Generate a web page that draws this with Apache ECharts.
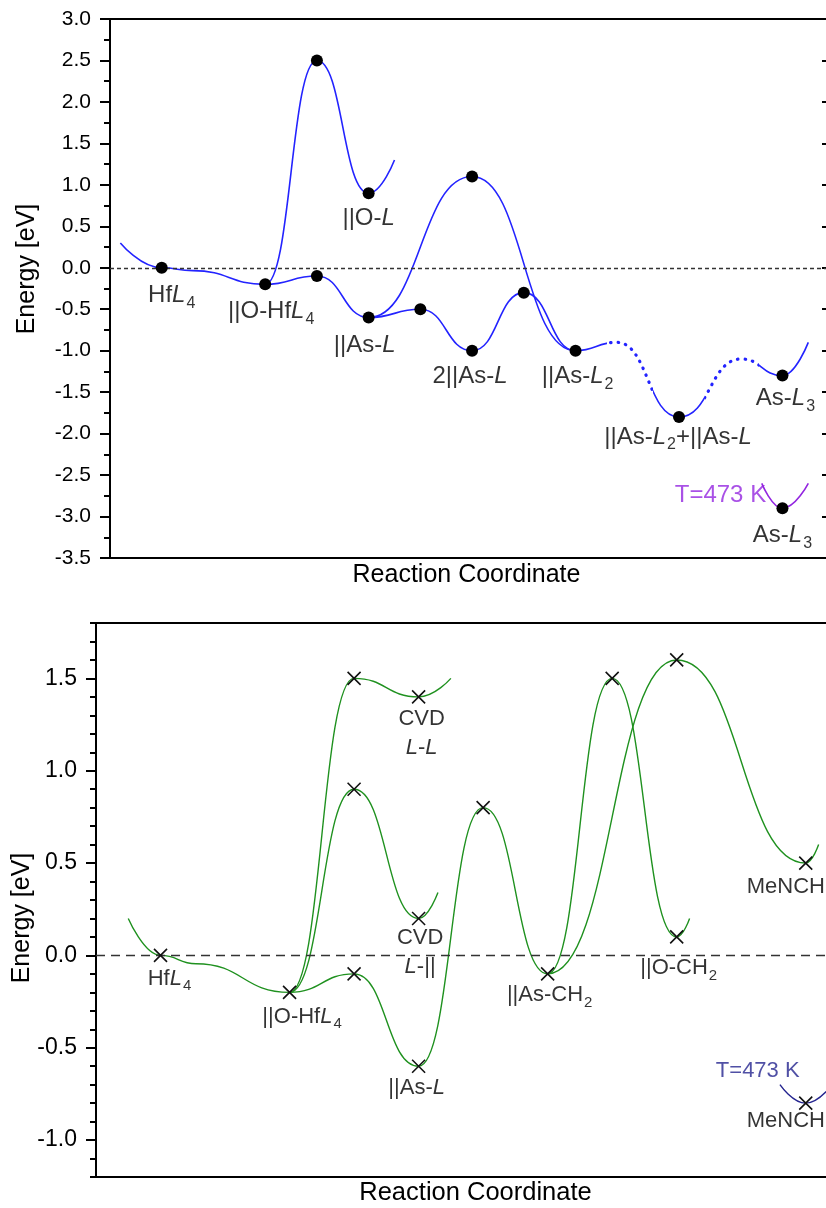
<!DOCTYPE html>
<html>
<head>
<meta charset="utf-8">
<script src="https://cdn.jsdelivr.net/npm/echarts@6/dist/echarts.min.js"></script>
<style>
  html, body { margin: 0; padding: 0; background: #fff; }
  #chart { width: 826px; height: 1208px; }
</style>
</head>
<body>
<div id="chart"></div>
<script>
const FONT = '"Liberation Sans", Arial, Helvetica, sans-serif';

// ---------- upper panel: ||As / ||O pathways (energies in eV) ----------
// each pathway is listed in full from the gas-phase start, so shared stretches coincide
const upperMainPath = [[0.2, 0.3], [1, 0], [1.6, -0.035], [3, -0.2], [4, -0.1], [5, -0.6], [6, -0.5],
  [7, -1.0], [8, -0.3], [9, -1.0], [9.8, -0.9], [11, -1.8], [12.2, -1.1], [13, -1.3], [13.5, -0.9]];
const upperOxygenPath = [[0.2, 0.3], [1, 0], [1.6, -0.035], [3, -0.2], [4, 2.5], [5, 0.9], [5.5, 1.3]];
const upperArsenicPath = [[0.2, 0.3], [1, 0], [1.6, -0.035], [3, -0.2], [4, -0.1], [5, -0.6], [7, 1.1],
  [9, -1.0], [9.8, -0.9], [11, -1.8], [12.2, -1.1], [13, -1.3], [13.5, -0.9]];
const upperHotPath = [[12.6, -2.6], [13, -2.9], [13.5, -2.6]];
const upperStates = [[1, 0], [3, -0.2], [4, 2.5], [5, 0.9], [4, -0.1], [5, -0.6], [6, -0.5],
  [7, -1.0], [7, 1.1], [8, -0.3], [9, -1.0], [11, -1.8], [13, -1.3], [13, -2.9]];
// stretches of the main path drawn dotted (reaction-coordinate ranges)
const upperDottedSpans = [[9.6, 10.5], [11.5, 12.55]];
// stretch over which each side pathway runs apart from the main one
const upperOxygenBranch = [3, 6];
const upperArsenicBranch = [5, 9];
const upperLabels = [
  { text: 'Hf{i|L}{s|4}', at: [1, 0] },
  { text: '||O-Hf{i|L}{s|4}', at: [3, -0.2] },
  { text: '||O-{i|L}', at: [5, 0.9] },
  { text: '||As-{i|L}', at: [5, -0.6] },
  { text: '2||As-{i|L}', at: [7, -1.0] },
  { text: '||As-{i|L}{s|2}', at: [9, -1.0] },
  { text: '||As-{i|L}{s|2}+||As-{i|L}', at: [11, -1.8] },
  { text: 'As-{i|L}{s|3}', at: [13, -1.3] },
  { text: 'T=473 K', at: [13, -2.9] },
  { text: 'As-{i|L}{s|3}', at: [13, -2.9] }
];
const upperYTicks = { min: -3.5, max: 3.0, step: 0.5 };
const upperXRange = { min: 0, max: 13.9 };

// ---------- lower panel: CH2 pathways (energies in eV) ----------
const lowerMainPath = [[0.5, 0.2], [1, 0], [1.55, -0.045], [3, -0.2], [4, -0.1], [5, -0.6], [6, 0.8],
  [7, -0.1], [8, 1.5], [9, 0.1], [9.2, 0.2]];
const lowerCvdSurfacePath = [[0.5, 0.2], [1, 0], [1.55, -0.045], [3, -0.2], [4, 0.9], [5, 0.2], [5.3, 0.34]];
const lowerCvdGasPath = [[0.5, 0.2], [1, 0], [1.55, -0.045], [3, -0.2], [4, 1.5], [5, 1.4], [5.5, 1.5]];
const lowerMeNCHPath = [[0.5, 0.2], [1, 0], [1.55, -0.045], [3, -0.2], [4, -0.1], [5, -0.6], [6, 0.8],
  [7, -0.1], [9, 1.6], [11, 0.5], [11.2, 0.6]];
const lowerHotPath = [[10.6, -0.7], [11, -0.8], [11.45, -0.68]];
const lowerCvdBranch = [3, 6];
const lowerMeNCHBranch = [7, 12];
const lowerStates = [[1, 0], [3, -0.2], [4, -0.1], [4, 1.5], [4, 0.9], [5, 1.4], [5, 0.2], [5, -0.6],
  [6, 0.8], [7, -0.1], [8, 1.5], [9, 1.6], [9, 0.1], [11, 0.5], [11, -0.8]];
const lowerLabels = [
  { text: 'Hf{i|L}{s|4}', at: [1, 0] },
  { text: '||O-Hf{i|L}{s|4}', at: [3, -0.2] },
  { text: '||As-{i|L}', at: [5, -0.6] },
  { text: 'CVD\n{i|L}-{i|L}', at: [5, 1.4] },
  { text: 'CVD\n{i|L}-||', at: [5, 0.2] },
  { text: '||As-CH{s|2}', at: [7, -0.1] },
  { text: '||O-CH{s|2}', at: [9, 0.1] },
  { text: 'MeNCH', at: [11, 0.5] },
  { text: 'T=473 K', at: [11, -0.8] },
  { text: 'MeNCH', at: [11, -0.8] }
];
const lowerYRange = { min: -1.2, max: 1.8, minorStep: 0.1 };
const lowerYMajor = [-1.0, -0.5, 0.0, 0.5, 1.0, 1.5];
const lowerXRange = { min: 0, max: 11.5 };

// ---------- styling ----------
const BLUE = '#2323ff', PURPLE = '#9326e0', GREEN = '#1f911f', NAVY = '#24248f';
const CLEAR = 'rgba(0,0,0,0)';

// label placement relative to the marked state, in pixels
const upperLabelStyle = [
  { off: [10, 28] }, { off: [6, 27] }, { off: [0, 25] }, { off: [-4, 28] }, { off: [-2, 26] },
  { off: [2, 26] }, { off: [-1, 20] }, { off: [3, 23] }, { off: [-62, -13], color: PURPLE }, { off: [0, 27.5] }
];
const lowerLabelStyle = [
  { off: [9, 23.5] }, { off: [12.5, 25] }, { off: [-2, 22] }, { off: [3, 36.5] }, { off: [1.5, 33.5] },
  { off: [2, 21.5] }, { off: [2, 31.5] }, { off: [-59, 24], align: 'left' },
  { off: [-48, -32], color: NAVY }, { off: [-59, 18], align: 'left' }
];

function rich(fs, subFs, subPad) {
  return {
    i: { fontStyle: 'italic', fontSize: fs, fontFamily: FONT, color: '#000' },
    s: { fontSize: subFs, fontFamily: FONT, color: '#000', padding: [subPad, 0, 0, 1] }
  };
}

function curve(data, color, width, gi, extra) {
  const s = Object.assign({
    type: 'line', data: data, xAxisIndex: gi * 2, yAxisIndex: gi === 0 ? 0 : 2,
    smooth: 0.5, smoothMonotone: 'x', symbol: 'none', silent: true, z: 3,
    lineStyle: { width: width }
  }, extra || {});
  if (color) s.lineStyle = Object.assign({ color: color }, s.lineStyle);
  return s;
}

function zeroLine(dash) {
  return {
    silent: true, symbol: ['none', 'none'], label: { show: false },
    lineStyle: { color: '#333', width: 1.4, type: dash }, data: [{ yAxis: 0 }]
  };
}

function labelSeries(labels, styles, gi, fs, subFs, subPad, lineH) {
  return {
    type: 'scatter', xAxisIndex: gi * 2, yAxisIndex: gi === 0 ? 0 : 2, silent: true, z: 6,
    symbolSize: 1, itemStyle: { color: CLEAR },
    data: labels.map((l, k) => ({
      value: l.at,
      label: {
        show: true, position: 'inside', formatter: l.text,
        offset: styles[k].off, align: styles[k].align || 'center', verticalAlign: 'middle',
        color: styles[k].color || '#000', fontSize: fs, fontFamily: FONT,
        lineHeight: lineH, rich: rich(fs, subFs, subPad)
      }
    }))
  };
}

// piecewise colouring along x: one colour inside the spans, another outside
function spanPieces(spans, inColor, outColor) {
  const pieces = [];
  let last = null;
  spans.forEach(([a, b]) => {
    pieces.push(last === null ? { lt: a, color: outColor } : { gte: last, lt: a, color: outColor });
    pieces.push({ gte: a, lt: b, color: inColor });
    last = b;
  });
  pieces.push({ gte: last, color: outColor });
  return pieces;
}

const series = [];
const visualMap = [];
function colourAlongX(seriesIndex, pieces) {
  visualMap.push({ type: 'piecewise', show: false, seriesIndex: seriesIndex, dimension: 0, pieces: pieces });
}

// upper panel
series.push(curve(upperMainPath, null, 1.6, 0, { markLine: zeroLine([4, 3]) }));
colourAlongX(series.length - 1, spanPieces(upperDottedSpans, CLEAR, BLUE));
series.push(curve(upperMainPath, null, 3.2, 0, { lineStyle: { width: 3.2, type: [0.5, 7], cap: 'round' } }));
colourAlongX(series.length - 1, spanPieces(upperDottedSpans, BLUE, CLEAR));
series.push(curve(upperOxygenPath, null, 1.6, 0));
colourAlongX(series.length - 1, spanPieces([upperOxygenBranch], BLUE, CLEAR));
series.push(curve(upperArsenicPath, null, 1.6, 0));
colourAlongX(series.length - 1, spanPieces([upperArsenicBranch], BLUE, CLEAR));
series.push(curve(upperHotPath, PURPLE, 1.6, 0));
series.push({
  type: 'scatter', data: upperStates, xAxisIndex: 0, yAxisIndex: 0, silent: true, z: 5,
  symbol: 'circle', symbolSize: 12, itemStyle: { color: '#000', opacity: 1 }
});
series.push(labelSeries(upperLabels, upperLabelStyle, 0, 24, 16, 16));

// lower panel
series.push(curve(lowerMainPath, GREEN, 1.4, 1, { markLine: zeroLine([9, 6]) }));
series.push(curve(lowerCvdSurfacePath, null, 1.4, 1));
colourAlongX(series.length - 1, spanPieces([lowerCvdBranch], GREEN, CLEAR));
series.push(curve(lowerCvdGasPath, null, 1.4, 1));
colourAlongX(series.length - 1, spanPieces([lowerCvdBranch], GREEN, CLEAR));
series.push(curve(lowerMeNCHPath, null, 1.4, 1));
colourAlongX(series.length - 1, spanPieces([lowerMeNCHBranch], GREEN, CLEAR));
series.push(curve(lowerHotPath, NAVY, 1.4, 1));
series.push({
  type: 'scatter', data: lowerStates, xAxisIndex: 2, yAxisIndex: 2, silent: true, z: 5,
  symbol: 'path://M0,0L10,10M10,0L0,10', symbolSize: 13,
  itemStyle: { color: CLEAR, borderColor: '#111', borderWidth: 1.6, opacity: 1 }
});
series.push(labelSeries(lowerLabels, lowerLabelStyle, 1, 22, 15, 14, 29));

const axisLine = { show: true, onZero: false, lineStyle: { color: '#000', width: 2 } };
const noSplit = { show: false };
const fmt1 = v => Number(v).toFixed(1);

function xPair(gi, range) {
  const base = {
    gridIndex: gi, type: 'value', min: range.min, max: range.max,
    axisLine: axisLine, axisTick: { show: false }, axisLabel: { show: false }, splitLine: noSplit
  };
  return [Object.assign({ position: 'bottom' }, base), Object.assign({ position: 'top' }, base)];
}

const option = {
  animation: false,
  backgroundColor: '#fff',
  textStyle: { fontFamily: FONT },
  grid: [
    { left: 110, top: 19, width: 719, height: 539, outerBoundsMode: 'none', containLabel: false },
    { left: 96, top: 623, width: 742, height: 554, outerBoundsMode: 'none', containLabel: false }
  ],
  xAxis: [...xPair(0, upperXRange), ...xPair(1, lowerXRange)],
  yAxis: [
    { // 0: upper left
      gridIndex: 0, type: 'value', position: 'left',
      min: upperYTicks.min, max: upperYTicks.max, interval: upperYTicks.step,
      axisLine: axisLine,
      axisTick: { show: true, inside: false, length: 10, lineStyle: { color: '#000', width: 2 } },
      minorTick: { show: true, splitNumber: 2, length: 6, lineStyle: { color: '#000', width: 2 } },
      axisLabel: { show: true, margin: 19, fontSize: 21, color: '#000', fontFamily: FONT, formatter: fmt1 },
      splitLine: noSplit, minorSplitLine: noSplit
    },
    { // 1: upper right
      gridIndex: 0, type: 'value', position: 'right',
      min: upperYTicks.min, max: upperYTicks.max, interval: upperYTicks.step,
      axisLine: axisLine,
      axisTick: { show: true, inside: true, length: 7, lineStyle: { color: '#000', width: 2 } },
      axisLabel: { show: false }, splitLine: noSplit
    },
    { // 2: lower left, minor ticks every 0.1
      gridIndex: 1, type: 'value', position: 'left',
      min: lowerYRange.min, max: lowerYRange.max, interval: lowerYRange.minorStep,
      axisLine: axisLine,
      axisTick: { show: true, inside: false, length: 6, lineStyle: { color: '#000', width: 2 } },
      axisLabel: { show: false }, splitLine: noSplit
    },
    { // 3: lower left, labelled major ticks
      gridIndex: 1, type: 'value', position: 'left',
      min: lowerYRange.min, max: lowerYRange.max, interval: lowerYRange.minorStep,
      axisLine: { show: false },
      axisTick: { show: true, inside: false, length: 10, customValues: lowerYMajor,
        lineStyle: { color: '#000', width: 2 } },
      axisLabel: { show: true, margin: 19, fontSize: 23, color: '#000', fontFamily: FONT,
        customValues: lowerYMajor, formatter: fmt1 },
      splitLine: noSplit
    },
    { // 4: lower right
      gridIndex: 1, type: 'value', position: 'right',
      min: lowerYRange.min, max: lowerYRange.max, interval: lowerYRange.minorStep,
      axisLine: axisLine, axisTick: { show: false }, axisLabel: { show: false }, splitLine: noSplit
    }
  ],
  visualMap: visualMap,
  graphic: [
    { type: 'text', x: 27, y: 269, rotation: Math.PI / 2, silent: true,
      style: { text: 'Energy [eV]', fontSize: 25, fontFamily: FONT, fill: '#000', align: 'center', verticalAlign: 'middle' } },
    { type: 'text', x: 466.5, y: 575, silent: true,
      style: { text: 'Reaction Coordinate', fontSize: 25, fontFamily: FONT, fill: '#000', align: 'center', verticalAlign: 'middle' } },
    { type: 'text', x: 22, y: 918, rotation: Math.PI / 2, silent: true,
      style: { text: 'Energy [eV]', fontSize: 25, fontFamily: FONT, fill: '#000', align: 'center', verticalAlign: 'middle' } },
    { type: 'text', x: 475.5, y: 1193, silent: true,
      style: { text: 'Reaction Coordinate', fontSize: 25.5, fontFamily: FONT, fill: '#000', align: 'center', verticalAlign: 'middle' } }
  ],
  series: series
};

const chart = echarts.init(document.getElementById('chart'), null, { renderer: 'canvas' });
chart.setOption(option);
</script>
</body>
</html>
